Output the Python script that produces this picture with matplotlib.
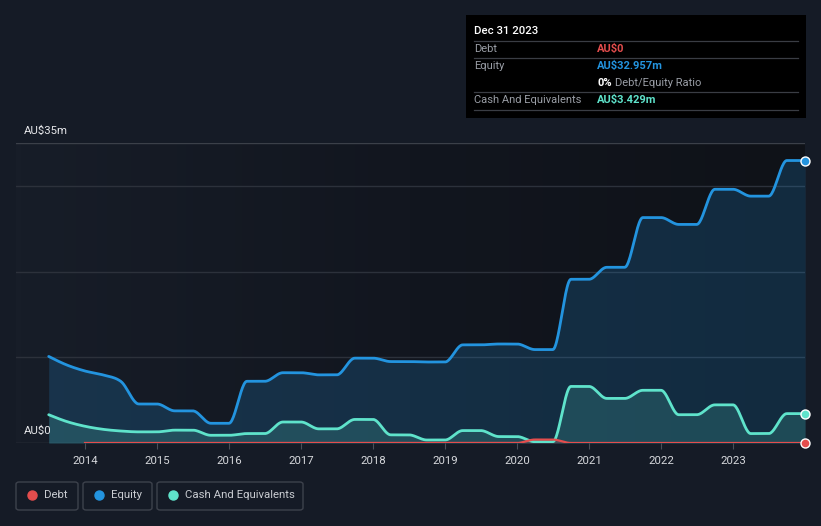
import numpy as np
import pandas as pd
import matplotlib
matplotlib.use("Agg")
import matplotlib.pyplot as plt
from matplotlib.colors import LinearSegmentedColormap
from matplotlib.patches import FancyBboxPatch, Rectangle
from matplotlib.lines import Line2D

plt.rcParams["font.family"] = ["Roboto", "DejaVu Sans"]

# ── data (AU$ millions, quarter ends) ──
quarters = pd.date_range("2013-06-30", "2023-12-31", freq="QE")

equity = [10.1, 9.1, 8.4, 7.95, 7.2, 4.55, 4.55, 3.75, 3.75, 2.3, 2.3,
          7.2, 7.2, 8.2, 8.2, 7.95, 7.95, 9.9, 9.9, 9.5, 9.5, 9.45, 9.45,
          11.45, 11.45, 11.55, 11.55, 10.9, 10.9, 19.1, 19.1, 20.5, 20.5,
          26.3, 26.3, 25.5, 25.5, 29.6, 29.6, 28.8, 28.8, 32.957, 32.957]

cash = [3.3, 2.5, 1.95, 1.6, 1.4, 1.3, 1.3, 1.5, 1.5, 0.9, 0.9,
        1.1, 1.1, 2.45, 2.45, 1.65, 1.65, 2.75, 2.75, 0.95, 0.95, 0.35, 0.35,
        1.45, 1.45, 0.75, 0.75, 0.15, 0.15, 6.6, 6.6, 5.2, 5.2,
        6.15, 6.15, 3.3, 3.3, 4.45, 4.45, 1.1, 1.1, 3.429, 3.429]

debt = [None, None, 0, 0, 0, 0, 0, 0, 0, 0, 0,
        0, 0, 0, 0, 0, 0, 0, 0, 0, 0, 0, 0,
        0, 0, 0, 0, 0.4, 0.4, 0, 0, 0, 0,
        0, 0, 0, 0, 0, 0, 0, 0, 0, 0]

year_ticks = list(range(2014, 2024))

BG = "#151b26"
EQ_C = "#2394df"
CASH_C = "#5fe3cb"
DEBT_C = "#e44d4d"
GRID_C = "#2c313b"
TXT_C = "#d6d8dc"


def monotone(x, y, n=24):
    """d3 curveMonotoneX-style smoothing for drawing."""
    x = np.asarray(x, float)
    y = np.asarray(y, float)
    h = np.diff(x)
    s = np.diff(y) / h
    m = np.zeros_like(y)
    for i in range(1, len(y) - 1):
        s0, s1, h0, h1 = s[i - 1], s[i], h[i - 1], h[i]
        p = (s0 * h1 + s1 * h0) / (h0 + h1)
        m[i] = (np.sign(s0) + np.sign(s1)) * min(abs(s0), abs(s1), 0.5 * abs(p))
    m[0] = (3 * s[0] - m[1]) / 2 if len(y) > 2 else s[0]
    m[-1] = (3 * s[-1] - m[-2]) / 2 if len(y) > 2 else s[-1]
    xs, ys = [], []
    for i in range(len(h)):
        t = np.linspace(0, 1, n, endpoint=False)
        h00 = 2 * t**3 - 3 * t**2 + 1
        h10 = t**3 - 2 * t**2 + t
        h01 = -2 * t**3 + 3 * t**2
        h11 = t**3 - t**2
        xs.append(x[i] + t * h[i])
        ys.append(h00 * y[i] + h10 * h[i] * m[i] + h01 * y[i + 1] + h11 * h[i] * m[i + 1])
    xs.append([x[-1]])
    ys.append([y[-1]])
    return np.concatenate(xs), np.concatenate(ys)


t = np.array([d.year + (d.dayofyear / (366 if d.is_leap_year else 365)) for d in quarters])
deb = np.array([np.nan if v is None else v for v in debt], float)

fig = plt.figure(figsize=(8.21, 5.26), dpi=100, facecolor=BG)
W, H = 821, 526
x0, x1, ytop, ybot = 16, 805, 143, 443
ax = fig.add_axes([x0 / W, 1 - ybot / H, (x1 - x0) / W, (ybot - ytop) / H])
ax.set_facecolor("none")

px_per_year = 72.0
xmin = 2014 - (85 - x0) / px_per_year
xmax = 2014 + (x1 - 85) / px_per_year

# plot-area gradient (lighter left, darker right)
cmap = LinearSegmentedColormap.from_list("bg", ["#171d28", "#12161f", "#0f1218"])
ax.imshow(np.linspace(0, 1, 256).reshape(1, -1), cmap=cmap, aspect="auto",
          extent=[xmin, xmax, 0, 35], zorder=0, interpolation="bicubic")

for v in [10, 20, 30]:
    ax.axhline(v, color=GRID_C, lw=1.0, zorder=1)
ax.axhline(35, color="#3b4049", lw=1.0, zorder=1)
ax.axhline(0, color="#3b4049", lw=1.0, zorder=1)

# equity
ex, ey = monotone(t, equity)
ax.fill_between(ex, 0, ey, color=EQ_C, alpha=0.2, lw=0, zorder=2)
ax.plot(ex, ey, color=EQ_C, lw=2.0, zorder=4, solid_capstyle="round")

# cash
cx, cy = monotone(t, cash)
ax.fill_between(cx, 0, cy, color=CASH_C, alpha=0.17, lw=0, zorder=3)
ax.plot(cx, cy, color=CASH_C, lw=2.0, zorder=5, solid_capstyle="round")

# debt
ok = ~np.isnan(deb)
dx, dy = monotone(t[ok], deb[ok])
ax.fill_between(dx, 0, dy, color=DEBT_C, alpha=0.2, lw=0, zorder=3)
ax.plot(dx, dy, color=DEBT_C, lw=1.6, zorder=6)

# end markers
for val, c in [(equity[-1], EQ_C), (cash[-1], CASH_C), (0, DEBT_C)]:
    ax.plot([t[-1]], [val], "o", ms=6.5, color=c, mec="white", mew=1.0,
            zorder=8, clip_on=False)

ax.set_xlim(xmin, xmax)
ax.set_ylim(0, 35)
ax.set_xticks(year_ticks)
ax.set_xticklabels([str(y) for y in year_ticks], color=TXT_C, fontsize=8.2)
ax.tick_params(axis="x", length=4, color="#4a4f58", pad=5)
ax.set_yticks([])
for sp in ax.spines.values():
    sp.set_visible(False)

# y labels
fig.text(24 / W, 1 - 131 / H, "AU$35m", color="#e6e7ea", fontsize=8.2, va="center", ha="left")
fig.text(24 / W, 1 - 431 / H, "AU$0", color="#e6e7ea", fontsize=8.2, va="center", ha="left")

# tooltip box
fig.patches.append(Rectangle((466 / W, 1 - 118 / H), (806 - 466) / W, (118 - 15) / H,
                             transform=fig.transFigure, facecolor="#000000",
                             edgecolor="none", zorder=1))
for yy in [41, 58, 92, 110]:
    fig.add_artist(Line2D([474 / W, 798 / W], [1 - yy / H, 1 - yy / H],
                          color="#3a3d44", lw=0.9, zorder=2))
fig.text(474 / W, 1 - 31 / H, "Dec 31 2023", color="white", fontsize=8.2, va="center",
         fontweight="medium", zorder=3)
rows = [(49, "Debt", "AU$0", DEBT_C),
        (66, "Equity", "AU$32.957m", EQ_C),
        (100, "Cash And Equivalents", "AU$3.429m", CASH_C)]
for yy, lab, val, c in rows:
    fig.text(474 / W, 1 - yy / H, lab, color="#9a9ea6", fontsize=8, va="center", zorder=3)
    fig.text(597 / W, 1 - yy / H, val, color=c, fontsize=8, va="center",
             fontweight="bold", zorder=3)
fig.text(597 / W, 1 - 83 / H, "0%", color="white", fontsize=8, va="center",
         fontweight="bold", zorder=3)
fig.text(615 / W, 1 - 83 / H, "Debt/Equity Ratio", color="#9a9ea6", fontsize=8,
         va="center", zorder=3)

# legend
legend_items = [("Debt", DEBT_C, 16, 78), ("Equity", EQ_C, 83, 152),
                ("Cash And Equivalents", CASH_C, 157, 303)]
for lab, c, lx0, lx1 in legend_items:
    fig.patches.append(FancyBboxPatch((lx0 / W, 1 - 510 / H), (lx1 - lx0) / W, 28 / H,
                                      boxstyle="round,pad=0,rounding_size=0.004",
                                      transform=fig.transFigure, facecolor="none",
                                      edgecolor="#3d424c", lw=1.0))
    fig.add_artist(Line2D([(lx0 + 16) / W], [1 - 495 / H], marker="o", ms=6.5,
                          color=c, lw=0))
    fig.text((lx0 + 28) / W, 1 - 495 / H, lab, color="#c9ccd1", fontsize=8.2, va="center")

fig.savefig("out.png", dpi=100, facecolor=BG)
